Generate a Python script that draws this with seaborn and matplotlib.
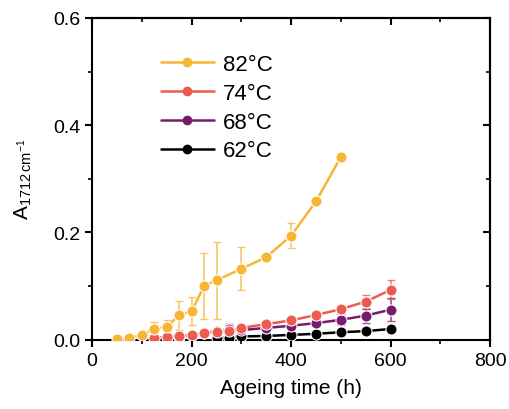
import numpy as np
import pandas as pd
import matplotlib
matplotlib.use("Agg")
import matplotlib.pyplot as plt
from matplotlib.lines import Line2D
from matplotlib.ticker import MultipleLocator
import seaborn as sns

# ---------- Data ----------
t_82 = [50, 75, 100, 125, 150, 175, 200, 225, 250, 300, 350, 400, 450, 500]
a_82 = [0.001, 0.003, 0.009, 0.020, 0.024, 0.046, 0.053, 0.100, 0.111, 0.132, 0.154, 0.194, 0.258, 0.341]
e_82 = [0.0, 0.0, 0.003, 0.013, 0.013, 0.027, 0.026, 0.061, 0.072, 0.040, 0.0, 0.023, 0.0, 0.0]

t_74 = [125, 150, 175, 200, 225, 250, 275, 300, 350, 400, 450, 500, 550, 600]
a_74 = [0.004, 0.005, 0.007, 0.009, 0.012, 0.014, 0.016, 0.022, 0.029, 0.036, 0.046, 0.057, 0.071, 0.093]
e_74 = [0.0, 0.0, 0.002, 0.002, 0.003, 0.003, 0.004, 0.004, 0.004, 0.005, 0.005, 0.008, 0.012, 0.018]

t_68 = [175, 200, 225, 250, 275, 300, 350, 400, 450, 500, 550, 600]
a_68 = [0.005, 0.008, 0.013, 0.016, 0.020, 0.018, 0.022, 0.026, 0.031, 0.037, 0.045, 0.056]
e_68 = [0.002, 0.003, 0.004, 0.004, 0.010, 0.004, 0.004, 0.005, 0.006, 0.010, 0.013, 0.021]

t_62 = [250, 275, 300, 350, 400, 450, 500, 550, 600]
a_62 = [0.003, 0.004, 0.006, 0.007, 0.009, 0.011, 0.014, 0.016, 0.020]
e_62 = [0.0, 0.0, 0.001, 0.002, 0.002, 0.003, 0.003, 0.004, 0.006]

labels = ["82°C", "74°C", "68°C", "62°C"]
colors = ["#F8B434", "#EC5B50", "#7A1A6E", "#000000"]

# ---------- Long-form table ----------
frames = []
for lab, t, a, e in zip(labels, [t_82, t_74, t_68, t_62], [a_82, a_74, a_68, a_62],
                        [e_82, e_74, e_68, e_62]):
    frames.append(pd.DataFrame({"time": t, "A": a, "err": e, "temp": lab}))
df = pd.concat(frames, ignore_index=True)

# ---------- Plot ----------
sns.set_style("ticks")
plt.rcParams["font.family"] = ["Liberation Sans", "DejaVu Sans"]
plt.rcParams["mathtext.fontset"] = "custom"
plt.rcParams["mathtext.rm"] = "Liberation Sans"
plt.rcParams["mathtext.it"] = "Liberation Sans"
for key in ["text.color", "axes.labelcolor", "xtick.color", "ytick.color"]:
    plt.rcParams[key] = "black"

fig = plt.figure(figsize=(5.09, 4.10), dpi=100)
ax = fig.add_axes([0.181, 0.169, 0.782, 0.785])

palette = dict(zip(labels, colors))
# draw low-temperature series first so the 82°C curve sits on top
for lab in labels[::-1]:
    sub = df[df["temp"] == lab]
    ax.errorbar(sub["time"], sub["A"], yerr=sub["err"], fmt="none",
                ecolor=palette[lab], elinewidth=1.2, capsize=3, capthick=1.0,
                alpha=0.75, zorder=2)
    sns.lineplot(data=sub, x="time", y="A", color=palette[lab], marker="o",
                 markersize=8, markeredgecolor="white", markeredgewidth=0.8,
                 linewidth=1.8, ax=ax, zorder=3, legend=False)

ax.set_xlim(0, 800)
ax.set_ylim(0, 0.6)
ax.xaxis.set_major_locator(MultipleLocator(200))
ax.xaxis.set_minor_locator(MultipleLocator(100))
ax.set_yticks([0, 0.2, 0.4, 0.6])
ax.set_yticklabels(["0.0", "0.2", "0.4", "0.6"])
ax.yaxis.set_minor_locator(MultipleLocator(0.1))

for side in ["left", "bottom", "top", "right"]:
    ax.spines[side].set_visible(True)
    ax.spines[side].set_linewidth(1.5)
    ax.spines[side].set_color("black")

ax.tick_params(axis="both", which="major", direction="out", length=5, width=1.5,
               labelsize=14, top=False, right=False, colors="black")
ax.tick_params(axis="both", which="minor", direction="out", length=3, width=1.2,
               top=False, right=False, colors="black")
# mirrored inward ticks on top/right
axt = ax.secondary_xaxis("top")
axt.xaxis.set_major_locator(MultipleLocator(200))
axt.xaxis.set_minor_locator(MultipleLocator(100))
axt.tick_params(which="major", direction="in", length=5, width=1.5, labeltop=False)
axt.tick_params(which="minor", direction="in", length=3, width=1.2)
axt.spines["top"].set_linewidth(1.5)
axr = ax.secondary_yaxis("right")
axr.yaxis.set_major_locator(MultipleLocator(0.2))
axr.yaxis.set_minor_locator(MultipleLocator(0.1))
axr.tick_params(which="major", direction="in", length=5, width=1.5, labelright=False)
axr.tick_params(which="minor", direction="in", length=3, width=1.2)
axr.spines["right"].set_linewidth(1.5)

ax.set_xlabel("Ageing time (h)", fontsize=15, labelpad=7)
ax.set_ylabel(r"A$_{\mathregular{1712\,cm^{-1}}}$", fontsize=15, labelpad=14)

handles = [Line2D([0], [0], color=c, marker="o", markersize=6, linewidth=1.8)
           for c in colors]
ax.legend(handles, labels, loc="upper left", bbox_to_anchor=(0.15, 0.915),
          frameon=False, fontsize=16, handlelength=2.4, handletextpad=0.4,
          labelspacing=0.35, borderaxespad=0)

fig.savefig("out.png", dpi=100)
